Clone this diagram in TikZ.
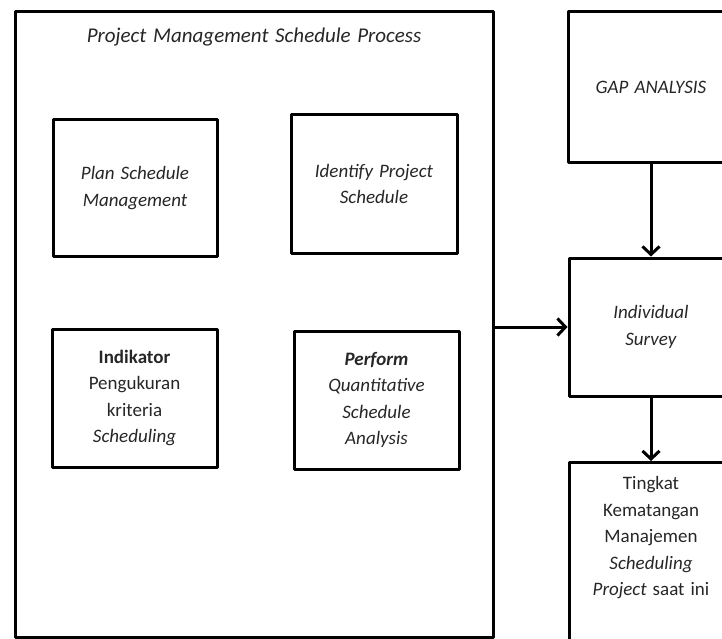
\documentclass[tikz,border=0pt]{standalone}
\usepackage{fontspec}
\setmainfont{Carlito}[WordSpace=1.4]
\usetikzlibrary{positioning,arrows.meta}

\begin{document}
\begin{tikzpicture}[x=1pt,y=-1pt,
  box/.style={draw,line width=3pt,line join=round,align=center,inner sep=0pt},
  txt/.style={font=\fontsize{19}{26.5}\selectfont,text=black!85},
  flow/.style={line width=3pt,-{Straight Barb[length=8pt,width=17pt,line width=3pt]}}]
\useasboundingbox (0,0) rectangle (722,639);
%% left frame
\node[box,minimum width=478pt,minimum height=625pt] (pmsp) at (254,324.5) {};
\node[txt,font=\fontsize{21}{26}\selectfont] (title) at (254,37) {\textit{Project Management Schedule Process}};
%% four inner boxes
\node[box,txt,minimum width=164pt,minimum height=137pt] (plan) at (135,188)
  {\textit{Plan Schedule}\\\textit{Management}};
\node[box,txt,minimum width=166pt,minimum height=138pt] (ident) at (374,184)
  {\textit{Identify Project}\\\textit{Schedule}};
\node[box,txt,minimum width=165pt,minimum height=138pt] (indik) at (134.5,398)
  {\textbf{Indikator}\\Pengukuran\\kriteria\\\textit{Scheduling}};
\node[box,txt,minimum width=165pt,minimum height=138pt] (perform) at (376.5,400)
  {\textbf{\textit{Perform}}\\\textit{Quantitative}\\\textit{Schedule}\\\textit{Analysis}};
%% right column
\node[box,txt,minimum width=166pt,minimum height=151pt] (gap) at (651,87.5)
  {\textit{GAP ANALYSIS}};
\node[box,txt,minimum width=164pt,minimum height=138pt] (indiv) at (651,327)
  {\textit{Individual}\\\textit{Survey}};
\node[box,minimum width=164pt,minimum height=250pt,anchor=north] (tingkat) at (651,461) {};
\node[txt,align=center,below=12pt of tingkat.north] (tingkattxt)
  {Tingkat\\Kematangan\\Manajemen\\\textit{Scheduling}\\\textit{Project} saat ini};
%% arrows
\draw[flow] (pmsp.east |- indiv.west) -- (indiv.west);
\draw[flow] (gap.south) -- (indiv.north);
\draw[flow] (indiv.south) -- (tingkat.north);
\end{tikzpicture}
\end{document}
